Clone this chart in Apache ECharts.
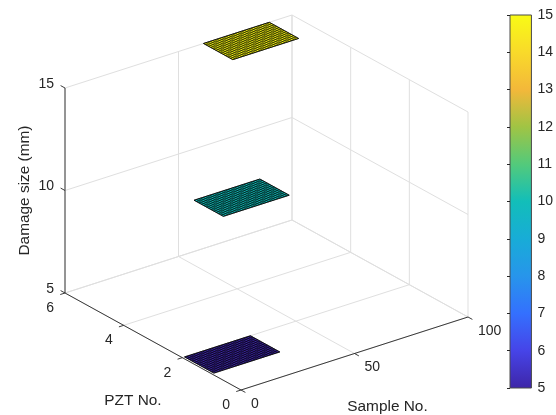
<!DOCTYPE html>
<html><head><meta charset="utf-8">
<script src="https://cdn.jsdelivr.net/npm/echarts@6/dist/echarts.min.js"></script>
<style>html,body{margin:0;padding:0;background:#fff}#c{width:556px;height:415px}</style>
</head><body><div id="c"></div>
<script>
// ---------- data ----------
const sampleRange = [0, 100];
const pztRange = [0, 6];
const damageRange = [5, 15];
const sampleTicks = [0, 50, 100];
const pztTicks = [0, 2, 4, 6];
const damageTicks = [5, 10, 15];
const colorbarTicks = [5, 6, 7, 8, 9, 10, 11, 12, 13, 14, 15];
const patchSampleFrom = [1, 31, 61];
const patchSampleTo = [30, 60, 90];
const patchPztFrom = [1, 3, 5];
const patchPztTo = [2, 4, 6];
const patchDamage = [5, 10, 15];
const xTitle = 'Sample No.';
const yTitle = 'PZT No.';
const zTitle = 'Damage size (mm)';

// ---------- style / projection ----------
const FONT = '"Liberation Sans", Arial, Helvetica, sans-serif';
const TXT = '#262626';
const GRIDC = '#dfdfdf';
const O = [241, 390];
const S_VEC = [227 / 100, -73 / 100];
const P_VEC = [-176 / 6, -97 / 6];
const Z_VEC = [0, -205 / 10];
function proj(s, p, z) {
  const dz = z - damageRange[0];
  return [O[0] + s * S_VEC[0] + p * P_VEC[0] + dz * Z_VEC[0],
          O[1] + s * S_VEC[1] + p * P_VEC[1] + dz * Z_VEC[1]];
}
const PARULA = [
  [0.0, [62, 38, 168]], [0.1, [70, 68, 232]], [0.2, [52, 112, 254]],
  [0.3, [39, 149, 235]], [0.4, [24, 172, 215]], [0.5, [18, 190, 185]],
  [0.6, [83, 202, 123]], [0.7, [160, 196, 68]], [0.8, [243, 184, 58]],
  [0.9, [249, 218, 42]], [1.0, [249, 251, 21]]
];
function parula(t) {
  t = Math.max(0, Math.min(1, t));
  for (let i = 1; i < PARULA.length; i++) {
    if (t <= PARULA[i][0]) {
      const a = PARULA[i - 1], b = PARULA[i];
      const f = (t - a[0]) / (b[0] - a[0]);
      const c = a[1].map((v, k) => Math.round(v + (b[1][k] - v) * f));
      return 'rgb(' + c.join(',') + ')';
    }
  }
  return 'rgb(' + PARULA[PARULA.length - 1][1].join(',') + ')';
}
const cmin = colorbarTicks[0], cmax = colorbarTicks[colorbarTicks.length - 1];

const [s0, s1] = sampleRange, [p0, p1] = pztRange, [z0, z1] = damageRange;
const gridSegs = [];
damageTicks.forEach(z => { gridSegs.push([s0, p1, z, s1, p1, z]); gridSegs.push([s1, p0, z, s1, p1, z]); });
sampleTicks.forEach(s => { gridSegs.push([s, p1, z0, s, p1, z1]); gridSegs.push([s, p0, z0, s, p1, z0]); });
pztTicks.forEach(p => { gridSegs.push([s1, p, z0, s1, p, z1]); gridSegs.push([s0, p, z0, s1, p, z0]); });

const patchRows = patchDamage.map((z, i) => [patchSampleFrom[i], patchSampleTo[i], patchPztFrom[i], patchPztTo[i], z]);

const chart = echarts.init(document.getElementById('c'), null, { renderer: 'canvas' });

function unit(v) { const l = Math.hypot(v[0], v[1]); return [v[0] / l, v[1] / l]; }

const option = {
  backgroundColor: '#fff',
  animation: false,
  grid: [
    { left: 0, top: 0, width: 556, height: 415 },
    { left: 510, top: 15, width: 22, height: 373 }
  ],
  xAxis: [
    { gridIndex: 0, type: 'value', min: 0, max: 556, show: false },
    { gridIndex: 1, type: 'value', min: 0, max: 1, show: false }
  ],
  yAxis: [
    { gridIndex: 0, type: 'value', min: 0, max: 415, inverse: true, show: false },
    { gridIndex: 1, type: 'value', min: cmin, max: cmax, interval: 1, position: 'right', z: 10,
      axisLine: { show: false }, splitLine: { show: false },
      axisTick: { show: true, inside: true, length: 3, lineStyle: { color: TXT, width: 1 } },
      axisLabel: { color: TXT, fontSize: 14, fontFamily: FONT, margin: 6 } }
  ],
  series: [
    {
      type: 'custom', xAxisIndex: 0, yAxisIndex: 0, z: 1, silent: true,
      data: gridSegs,
      renderItem: function (params, api) {
        const a = api.coord(proj(api.value(0), api.value(1), api.value(2)));
        const b = api.coord(proj(api.value(3), api.value(4), api.value(5)));
        return { type: 'line', shape: { x1: a[0], y1: a[1], x2: b[0], y2: b[1] },
                 style: { stroke: GRIDC, lineWidth: 1 } };
      }
    },
    {
      type: 'custom', xAxisIndex: 0, yAxisIndex: 0, z: 2, silent: true,
      data: patchRows,
      renderItem: function (params, api) {
        const sa = api.value(0), sb = api.value(1), pa = api.value(2), pb = api.value(3), z = api.value(4);
        const col = parula((z - cmin) / (cmax - cmin));
        const ch = [];
        const pts = [proj(sa, pa, z), proj(sb, pa, z), proj(sb, pb, z), proj(sa, pb, z)].map(q => api.coord(q));
        ch.push({ type: 'polygon', shape: { points: pts }, style: { fill: col, stroke: '#000', lineWidth: 0.7 } });
        for (let s = sa; s <= sb + 1e-9; s += 1) {
          const a = api.coord(proj(s, pa, z)), b = api.coord(proj(s, pb, z));
          ch.push({ type: 'line', shape: { x1: a[0], y1: a[1], x2: b[0], y2: b[1] }, style: { stroke: '#000', lineWidth: 0.6 } });
        }
        for (let k = 0; k <= 12; k++) {
          const p = pa + (pb - pa) * k / 12;
          const a = api.coord(proj(sa, p, z)), b = api.coord(proj(sb, p, z));
          ch.push({ type: 'line', shape: { x1: a[0], y1: a[1], x2: b[0], y2: b[1] }, style: { stroke: '#000', lineWidth: 0.6 } });
        }
        return { type: 'group', children: ch };
      }
    },
    {
      type: 'custom', xAxisIndex: 0, yAxisIndex: 0, z: 3, silent: true,
      data: [0],
      renderItem: function (params, api) {
        const ch = [];
        const line = (a, b) => ch.push({ type: 'line', shape: { x1: a[0], y1: a[1], x2: b[0], y2: b[1] }, style: { stroke: TXT, lineWidth: 0.9 } });
        const text = (t, x, y, align, fs, extra) => ch.push(Object.assign({ type: 'text', x: x, y: y,
          style: { text: t, x: 0, y: 0, fill: TXT, fontSize: fs, fontFamily: FONT, align: align, verticalAlign: 'middle' } }, extra || {}));
        const C = q => api.coord(q);
        line(C(proj(s0, p0, z0)), C(proj(s1, p0, z0)));
        line(C(proj(s0, p0, z0)), C(proj(s0, p1, z0)));
        line(C(proj(s0, p1, z0)), C(proj(s0, p1, z1)));
        const L = 5;
        const dS = unit([-S_VEC[0], -S_VEC[1]]);
        const dP = unit([-P_VEC[0], -P_VEC[1]]);
        const dZ = unit([P_VEC[0], P_VEC[1]]);
        sampleTicks.forEach(s => {
          const a = C(proj(s, p0, z0));
          line(a, [a[0] + dP[0] * L, a[1] + dP[1] * L]);
          text(String(s), a[0] + 10, a[1] + 14, 'left', 14);
        });
        pztTicks.forEach(p => {
          const a = C(proj(s0, p, z0));
          line(a, [a[0] + dS[0] * L, a[1] + dS[1] * L]);
          text(String(p), a[0] - 11, a[1] + 15, 'right', 14);
        });
        damageTicks.forEach(z => {
          const a = C(proj(s0, p1, z));
          line(a, [a[0] + dZ[0] * L, a[1] + dZ[1] * L]);
          text(String(z), a[0] - 11, a[1] - 4, 'right', 14);
        });
        const mx = C(proj((s0 + s1) / 2, p0, z0));
        text(xTitle, mx[0] + 33, mx[1] + 53, 'center', 15.4);
        const my = C(proj(s0, (p0 + p1) / 2, z0));
        text(yTitle, my[0] - 20, my[1] + 59, 'center', 15.4);
        const mz = C(proj(s0, p1, (z0 + z1) / 2));
        text(zTitle, mz[0] - 40, mz[1], 'center', 15.4, { rotation: Math.PI / 2 });
        return { type: 'group', children: ch };
      }
    },
    {
      type: 'custom', xAxisIndex: 1, yAxisIndex: 1, z: 2, silent: true,
      data: [0],
      renderItem: function (params, api) {
        const a = api.coord([0, cmax]), b = api.coord([1, cmin]);
        const stops = PARULA.map(s => ({ offset: 1 - s[0], color: 'rgb(' + s[1].join(',') + ')' })).reverse();
        return { type: 'group', children: [
          { type: 'rect', shape: { x: a[0], y: a[1], width: b[0] - a[0], height: b[1] - a[1] },
            style: { fill: new echarts.graphic.LinearGradient(0, 0, 0, 1, stops) } },
          { type: 'rect', shape: { x: a[0], y: a[1], width: b[0] - a[0], height: b[1] - a[1] },
            style: { fill: 'none', stroke: '#4a4a4a', lineWidth: 1 } }
        ] };
      }
    }
  ]
};
chart.setOption(option);
</script>
</body></html>
